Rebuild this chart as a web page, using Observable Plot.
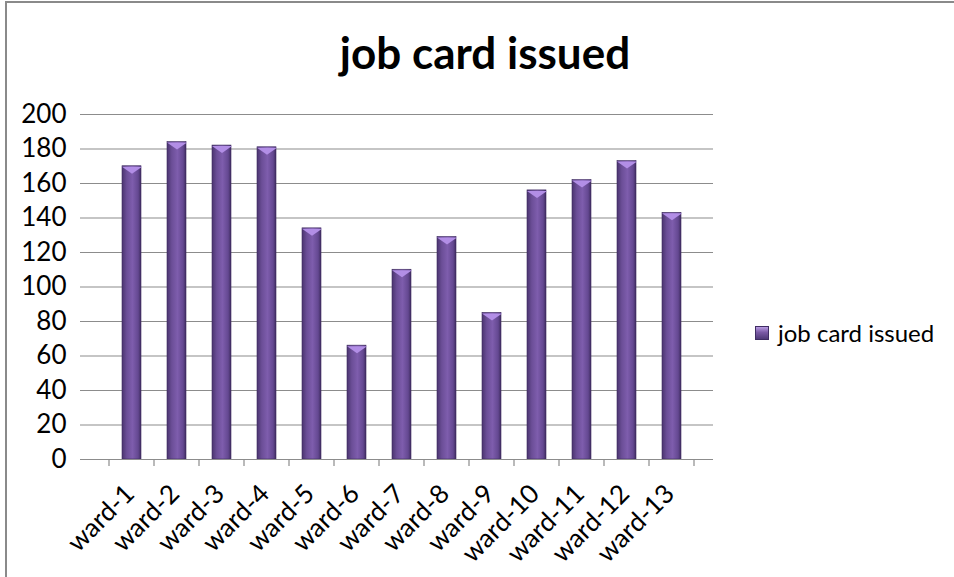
<!DOCTYPE html>
<html>
<head>
<meta charset="utf-8">
<script src="https://cdn.jsdelivr.net/npm/d3@7"></script>
<script src="https://cdn.jsdelivr.net/npm/@observablehq/plot@0.6"></script>
<style>
  html, body { margin: 0; padding: 0; background: #fff; }
  #wrap { position: relative; width: 954px; height: 577px; overflow: hidden; font-family: Lato, "Open Sans", sans-serif; }
  #frame { position: absolute; left: 5px; top: 1px; width: 960px; height: 600px; border-left: 2px solid #8a8a8a; border-top: 2px solid #8a8a8a; box-sizing: border-box; pointer-events: none; }
  #title { position: absolute; left: 0; width: 970px; top: 26px; text-align: center; font-size: 44px; font-weight: bold; color: #000; line-height: 52px; }
  #legend { position: absolute; left: 755px; top: 318px; font-size: 24px; color: #000; display: flex; align-items: center; }
  #legend .sw { width: 12px; height: 12px; margin-right: 9px; background: linear-gradient(to bottom, #b89be2 0%, #7a5aa5 45%, #4f3a78 100%); border: 1px solid #3f2d63; }
  #chart { position: absolute; left: 0; top: 0; }
  #chart svg text { font-size: 26px !important; }
</style>
</head>
<body>
<div id="wrap">
  <div id="chart"></div>
  <div id="title">job card issued</div>
  <div id="legend"><span class="sw"></span><span>job card issued</span></div>
  <div id="frame"></div>
</div>
<script>
const categories = ["ward-1","ward-2","ward-3","ward-4","ward-5","ward-6","ward-7","ward-8","ward-9","ward-10","ward-11","ward-12","ward-13"];
const values = [170, 184, 182, 181, 134, 66, 110, 129, 85, 156, 162, 173, 143];
const yTicks = [0, 20, 40, 60, 80, 100, 120, 140, 160, 180, 200];
const seriesName = "job card issued";

const data = categories.map((c, i) => ({ward: c, value: values[i]}));

// flat, downward-pointing bevel shape for the top of each bar
const bevel = {
  draw(ctx) {
    ctx.moveTo(-10, -3.5);
    ctx.lineTo(10, -3.5);
    ctx.lineTo(0, 3.5);
    ctx.closePath();
  }
};

const plot = Plot.plot({
  width: 954,
  height: 577,
  marginLeft: 89,
  marginRight: 241,
  marginTop: 114,
  marginBottom: 118,
  style: { fontFamily: "Lato, 'Open Sans', sans-serif", fontSize: "26px", color: "#000", background: "transparent" },
  x: { domain: categories, padding: 0.58, label: null },
  y: { domain: [0, 200], ticks: yTicks, label: null },
  marks: [
    Plot.gridY(yTicks.filter(d => d > 0), { stroke: "#8c8c8c", strokeWidth: 1.2, strokeOpacity: 1 }),
    Plot.axisY({ ticks: yTicks, tickSize: 9, tickPadding: 14, stroke: "#8c8c8c", label: null }),
    Plot.barY(data, { x: "ward", y: "value", fill: "url(#barGrad)", stroke: "#3e2b60", strokeWidth: 0.6 }),
    Plot.dot(data, { x: "ward", y: "value", symbol: bevel, dy: 4, fill: "#b28ee6", stroke: "none" }),
    Plot.ruleY([0], { stroke: "#8c8c8c", strokeWidth: 1.2 }),
    Plot.axisX({ tickSize: 0, tickRotate: -45, tickPadding: 30, dx: -2, textAnchor: "end", label: null })
  ]
});

const svg = d3.select(plot);
const defs = svg.insert("defs", ":first-child");
const g = defs.append("linearGradient").attr("id", "barGrad").attr("x1", "0").attr("x2", "1").attr("y1", "0").attr("y2", "0");
g.append("stop").attr("offset", "0%").attr("stop-color", "#4a346f");
g.append("stop").attr("offset", "25%").attr("stop-color", "#6b4e97");
g.append("stop").attr("offset", "55%").attr("stop-color", "#7e5dad");
g.append("stop").attr("offset", "85%").attr("stop-color", "#644891");
g.append("stop").attr("offset", "100%").attr("stop-color", "#3f2c60");

document.getElementById("chart").append(plot);

// category boundary ticks using the plot's own x and y scales
const xs = plot.scale("x");
const ys = plot.scale("y");
const y0 = ys.apply(0);
const bounds = categories.map(c => xs.apply(c) - (xs.step - xs.bandwidth) / 2);
bounds.push(bounds[bounds.length - 1] + xs.step);
const tg = svg.append("g").attr("stroke", "#8c8c8c").attr("stroke-width", 1.2);
bounds.forEach(b => {
  tg.append("line").attr("x1", b).attr("x2", b).attr("y1", y0).attr("y2", y0 + 7);
});
</script>
</body>
</html>
